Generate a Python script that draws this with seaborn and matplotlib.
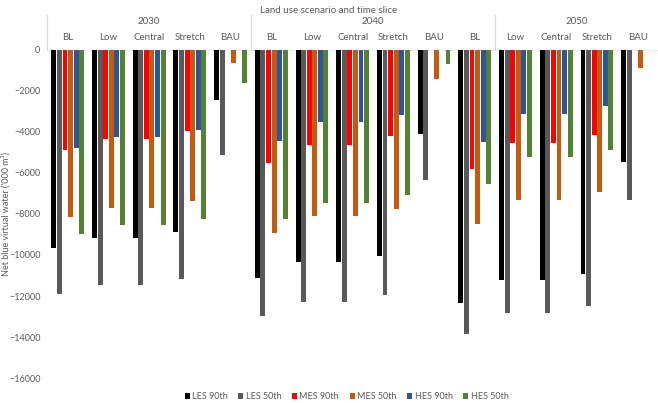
import pandas as pd
import matplotlib.pyplot as plt
import seaborn as sns

# categories
years = ["2030", "2040", "2050"]
scenarios = ["BL", "Low", "Central", "Stretch", "BAU"]
series = ["LES 90th", "LES 50th", "MES 90th", "MES 50th", "HES 90th", "HES 50th"]

# values ('000 m3), 15 groups: 2030 BL..BAU, 2040 BL..BAU, 2050 BL..BAU
les90 = [-9680, -9190, -9190, -8900, -2440, -11140, -10360, -10360, -10040, -4080, -12330, -11240, -11240, -10920, -5480]
les50 = [-11880, -11440, -11440, -11160, -5140, -12980, -12300, -12300, -11970, -6360, -13830, -12820, -12820, -12500, -7300]
mes90 = [-4880, -4340, -4340, -3950, 0, -5500, -4620, -4620, -4210, 0, -5820, -4560, -4560, -4160, 0]
mes50 = [-8150, -7690, -7690, -7370, -620, -8910, -8080, -8080, -7760, -1430, -8490, -7300, -7300, -6930, -900]
hes90 = [-4770, -4260, -4260, -3890, 0, -4420, -3510, -3510, -3150, 0, -4470, -3120, -3120, -2730, 0]
hes50 = [-8980, -8540, -8540, -8220, -1600, -8260, -7470, -7470, -7090, -680, -6540, -5240, -5240, -4880, 0]

colors = ["#000000", "#595959", "#FF0000", "#C55A11", "#2F5597", "#548235"]

groups = [y + " " + s for y in years for s in scenarios]
rows = []
for name, vals in zip(series, [les90, les50, mes90, mes50, hes90, hes50]):
    for g, v in zip(groups, vals):
        rows.append({"group": g, "series": name, "value": v})
df = pd.DataFrame(rows)

sns.set_theme(style="white")
plt.rcParams['font.family'] = ['Lato', 'DejaVu Sans']
txt = "#595959"

fig = plt.figure(figsize=(6.58, 4.03), dpi=100)
ax = fig.add_axes([0.072, 0.062, 0.928, 0.814])

sns.barplot(data=df, x="group", y="value", hue="series", order=groups,
            hue_order=series, palette=colors, width=0.82, gap=0.12,
            saturation=1, errorbar=None, linewidth=0, ax=ax)

ax.set_ylim(-16000, 0)
ax.set_xlim(-0.5, 14.5)
ax.set_yticks(range(-16000, 1, 2000))
ax.tick_params(axis="y", labelsize=6.5, colors=txt, length=0, pad=5)
for s in ax.spines.values():
    s.set_visible(False)

# scenario labels on top
ax.xaxis.set_ticks_position("top")
ax.set_xticks(range(len(groups)))
ax.set_xticklabels(scenarios * 3)
ax.tick_params(axis="x", labelsize=7, colors=txt, length=0, pad=6)
ax.set_xlabel("")
ax.set_ylabel("")
fig.text(6 / 658, 0.47, "Net blue virtual water ('000 m\u00b3)", rotation=90,
         ha="center", va="center", fontsize=6.5, color=txt)

# header: years and separators
for x, lab in zip([2, 7.5, 12.5], years):
    ax.text(x, 1370, lab, ha="center", va="center", fontsize=7, color=txt, clip_on=False)
for x in [-0.5, 4.5, 10.5]:
    ax.plot([x, x], [0, 1700], color="#d9d9d9", lw=0.8, clip_on=False)
ax.plot([-0.5, 14.5], [0, 0], color="#ececec", lw=0.8, clip_on=False, zorder=0)
fig.text(0.5, 0.985, "Land use scenario and time slice", ha="center", va="top",
         fontsize=7, color=txt)

sns.move_legend(ax, "lower center", bbox_to_anchor=(0.49, -0.095), ncol=6,
                frameon=False, title=None, fontsize=6.5, handlelength=0.55,
                handleheight=0.55, columnspacing=1.2, handletextpad=0.25)
for t in ax.get_legend().get_texts():
    t.set_color(txt)

plt.savefig("out.png", dpi=100)
